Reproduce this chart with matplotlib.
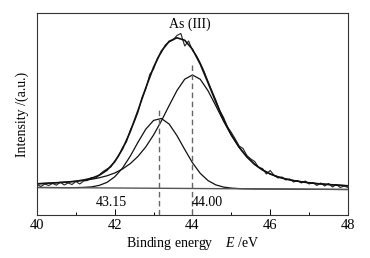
import numpy as np
import matplotlib.pyplot as plt

plt.rcParams['font.family'] = ['Liberation Serif', 'DejaVu Serif']
plt.rcParams['mathtext.fontset'] = 'custom'
plt.rcParams['mathtext.rm'] = 'Liberation Serif'
plt.rcParams['mathtext.it'] = 'Liberation Serif:italic'

# fit grid (eV) and fitted curves (arbitrary intensity units)
energy = np.round(np.arange(40.0, 48.01, 0.2), 1)
peak_4315 = [27.5, 27.45, 27.4, 27.35, 27.3, 27.4, 27.6, 28.1, 29.6, 32.6,
             38.2, 46.9, 58.9, 72.9, 85.9, 94.6, 96.5, 90.9, 79.4, 65.5,
             52.2, 41.6, 34.4, 30.1, 27.9, 26.9, 26.4, 26.2, 26.1, 26.05,
             26.0, 25.95, 25.9, 25.85, 25.8, 25.75, 25.7, 25.65, 25.6, 25.55, 25.5]
peak_4400 = [31.2, 31.6, 32.0, 32.5, 33.0, 33.7, 34.6, 35.7, 37.2, 39.2,
             42.0, 46.0, 51.4, 58.7, 68.2, 80.1, 94.1, 109.5, 124.4, 135.8,
             140.0, 135.7, 124.2, 109.2, 93.7, 79.6, 67.6, 58.0, 50.6, 45.1,
             41.0, 38.1, 36.0, 34.4, 33.2, 32.2, 31.4, 30.8, 30.2, 29.7, 29.2]
envelope = [31.2, 31.6, 32.0, 32.5, 33.0, 33.8, 35.0, 36.7, 39.7, 44.8,
            53.2, 66.0, 83.4, 104.7, 127.3, 147.9, 163.9, 173.7, 177.2, 174.7,
            165.7, 150.8, 132.2, 113.0, 95.3, 80.2, 67.8, 58.1, 50.6, 45.1,
            41.0, 38.1, 36.0, 34.4, 33.2, 32.2, 31.4, 30.8, 30.2, 29.7, 29.2]
bg_x = [40.0, 48.0]
bg_y = [27.5, 25.5]

# measured spectrum
raw_x = np.round(np.arange(40.0, 48.01, 0.1), 1)
raw_y = [30.5, 28.5, 31.0, 29.5, 31.5, 29.8, 32.8, 30.0, 32.0, 30.5,
         33.5, 31.0, 34.0, 34.5, 37.5, 36.5, 40.0, 43.5, 46.0, 48.0,
         54.0, 59.0, 67.5, 73.0, 85.0, 93.0, 103.0, 117.5, 126.0, 140.5,
         146.0, 157.0, 162.5, 170.0, 173.0, 175.0, 179.5, 181.5, 169.0, 174.0,
         164.5, 159.5, 152.0, 143.5, 133.5, 124.0, 115.0, 104.5, 97.5, 88.0,
         82.5, 76.0, 69.0, 66.5, 59.5, 56.0, 53.5, 47.5, 46.5, 41.0,
         44.5, 39.5, 37.0, 38.0, 35.0, 36.0, 33.0, 34.5, 32.0, 34.0,
         31.0, 32.5, 29.5, 32.0, 29.0, 31.5, 28.0, 30.5, 27.5, 29.0, 27.5]

centers = [43.15, 44.00]
center_labels = ['43.15', '44.00']
center_tops = [105, 150]

fig = plt.figure(figsize=(3.7, 2.58), dpi=100)
ax = fig.add_axes([0.1, 0.1667, 0.8405, 0.783])

ax.plot(raw_x, raw_y, color='#222222', lw=0.8)
ax.plot(energy, envelope, color='#111111', lw=1.2)
ax.plot(energy, peak_4315, color='#111111', lw=0.9)
ax.plot(energy, peak_4400, color='#111111', lw=0.9)
ax.plot(bg_x, bg_y, color='#555555', lw=1.0)

for c, top in zip(centers, center_tops):
    ax.plot([c, c], [0, top], color='#666666', lw=1.0, ls=(0, (4, 2.5)))

ax.text(41.92, 12.7, center_labels[0], ha='center', va='center', fontsize=10)
ax.text(44.37, 12.7, center_labels[1], ha='center', va='center', fontsize=10)
ax.text(43.92, 191, 'As (III)', ha='center', va='center', fontsize=10)

ax.set_xlim(40, 48)
ax.set_ylim(0, 202)
ax.set_xticks([40, 42, 44, 46, 48])
ax.set_xticks([41, 43, 45, 47], minor=True)
ax.set_yticks([])
ax.tick_params(axis='x', which='major', direction='in', length=4, width=0.7, labelsize=10.5, pad=3)
ax.tick_params(axis='x', which='minor', direction='in', length=2.5, width=0.7)
for s in ax.spines.values():
    s.set_linewidth(0.8)
    s.set_color('#333333')

ax.set_xlabel('Binding energy    $E$ /eV', fontsize=10, labelpad=2)
ax.set_ylabel('Intensity /(a.u.)', fontsize=10, labelpad=6)

fig.savefig('out.png', dpi=100)
